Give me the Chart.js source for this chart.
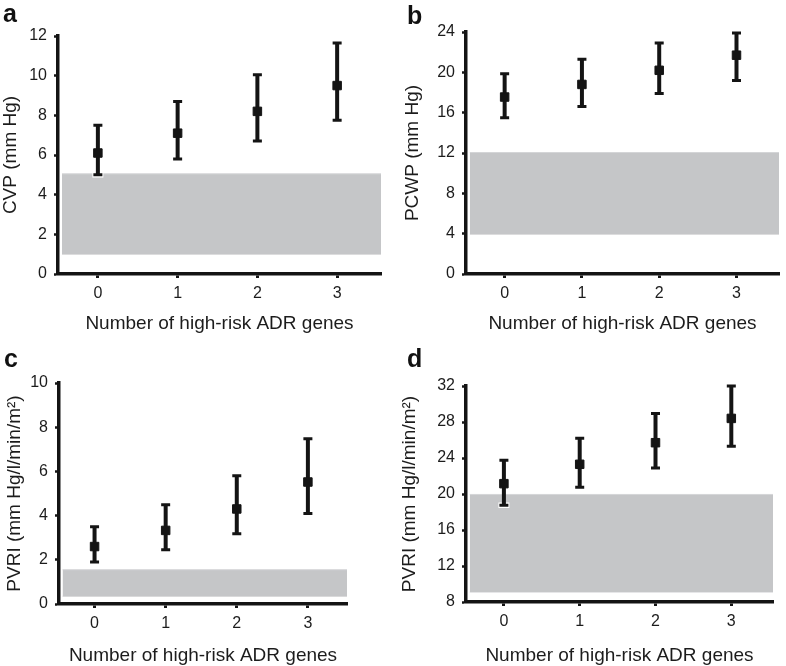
<!DOCTYPE html>
<html>
<head>
<meta charset="utf-8">
<script src="https://cdn.jsdelivr.net/npm/chart.js@4"></script>
<style>
  body { margin: 0; background: #fff; width: 786px; height: 666px; position: relative; overflow: hidden; font-family: "Liberation Sans", Arial, sans-serif; }
  .panel { position: absolute; width: 393px; height: 333px; }
  .lbl { position: absolute; font-weight: bold; font-size: 25px; line-height: 24px; color: #111; }
</style>
</head>
<body>
<div class="panel" style="left:0;top:0"><canvas id="ca"></canvas></div>
<div class="panel" style="left:393px;top:0"><canvas id="cb"></canvas></div>
<div class="panel" style="left:0;top:333px"><canvas id="cc"></canvas></div>
<div class="panel" style="left:393px;top:333px"><canvas id="cd"></canvas></div>
<div class="lbl" style="left:3px;top:1px">a</div>
<div class="lbl" style="left:407px;top:3px">b</div>
<div class="lbl" style="left:4px;top:346px">c</div>
<div class="lbl" style="left:407px;top:346px">d</div>
<script>
// number of high-risk ADR genes
const genes = [0, 1, 2, 3];

// a: CVP (mm Hg)
const cvpMean = [6.1, 7.1, 8.2, 9.5];
const cvpLow = [5.0, 5.8, 6.7, 7.75];
const cvpHigh = [7.5, 8.7, 10.05, 11.65];
const cvpNormal = [1.0, 5.05];

// b: PCWP (mm Hg)
const pcwpMean = [17.55, 18.8, 20.2, 21.7];
const pcwpLow = [15.5, 16.6, 17.9, 19.2];
const pcwpHigh = [19.85, 21.3, 22.9, 23.9];
const pcwpNormal = [3.95, 12.05];

// c: PVRI (mm Hg/l/min/m2)
const pvriMean = [2.6, 3.33, 4.3, 5.52];
const pvriLow = [1.9, 2.46, 3.18, 4.09];
const pvriHigh = [3.5, 4.49, 5.8, 7.48];
const pvriNormal = [0.35, 1.55];

// d: PVRI, second panel
const pvri2Mean = [21.15, 23.3, 25.7, 28.4];
const pvri2Low = [18.75, 20.75, 22.9, 25.3];
const pvri2High = [23.75, 26.2, 28.95, 32.0];
const pvri2Normal = [9.1, 19.95];

// normal range band spans the x axis
const bandX = [-0.45, 3.55];

const FONT = '"Liberation Sans", Arial, sans-serif';
const INK = '#141414';
const TXT = '#1c1c1c';

function makePanel(id, p) {
    const errorBars = {
        id: 'errorBars',
        beforeDatasetDraw(chart, args) {
            if (args.index !== 0) return;
            const ctx = chart.ctx;
            const x = chart.scales.x, y = chart.scales.y;
            ctx.save();
            genes.forEach((g, i) => {
                const px = x.getPixelForValue(g);
                const top = y.getPixelForValue(p.high[i]);
                const bot = y.getPixelForValue(p.low[i]);
                // thin white halo, visible over the grey band
                ctx.strokeStyle = '#fff';
                ctx.lineWidth = 5.5;
                ctx.beginPath();
                ctx.moveTo(px - 5.5, bot);
                ctx.lineTo(px + 5.5, bot);
                ctx.stroke();
                ctx.strokeStyle = INK;
                ctx.lineWidth = 4;
                ctx.beginPath();
                ctx.moveTo(px, top);
                ctx.lineTo(px, bot);
                ctx.stroke();
                ctx.lineWidth = 3;
                ctx.beginPath();
                ctx.moveTo(px - 4.5, top);
                ctx.lineTo(px + 4.5, top);
                ctx.moveTo(px - 4.5, bot);
                ctx.lineTo(px + 4.5, bot);
                ctx.stroke();
            });
            ctx.restore();
        }
    };

    new Chart(document.getElementById(id), {
        type: 'scatter',
        data: {
            datasets: [
                {
                    data: genes.map((g, i) => ({x: g, y: p.mean[i]})),
                    pointStyle: 'rect',
                    pointRadius: 6,
                    backgroundColor: INK,
                    borderColor: INK,
                    borderWidth: 1,
                    order: 0
                },
                {
                    type: 'line',
                    data: bandX.map(v => ({x: v, y: p.band[1]})),
                    fill: {value: p.band[0]},
                    backgroundColor: '#c5c6c8',
                    borderColor: '#d5d6d8',
                    borderWidth: 1,
                    pointRadius: 0,
                    order: 1
                },
                {
                    type: 'line',
                    data: bandX.map(v => ({x: v, y: p.band[0]})),
                    fill: false,
                    borderColor: '#d5d6d8',
                    borderWidth: 1,
                    pointRadius: 0,
                    order: 2
                }
            ]
        },
        plugins: [errorBars],
        options: {
            responsive: true,
            maintainAspectRatio: false,
            animation: false,
            layout: {padding: {top: p.top, right: p.right, left: 0, bottom: 0}},
            plugins: {legend: {display: false}, tooltip: {enabled: false}},
            scales: {
                x: {
                    type: 'linear',
                    min: -0.5,
                    max: 3.55,
                    afterBuildTicks: s => { s.ticks = genes.map(v => ({value: v})); },
                    afterFit: s => { s.height = p.xh; },
                    grid: {display: true, drawOnChartArea: false, drawTicks: true, tickLength: 4, tickWidth: 3, tickColor: INK},
                    border: {display: true, color: INK, width: 3.5},
                    ticks: {font: {family: FONT, size: 16}, color: TXT, padding: 6, maxRotation: 0, callback: v => String(v)},
                    title: {display: true, text: 'Number of high-risk ADR genes', color: TXT,
                        font: {family: FONT, size: 19, lineHeight: 1}, padding: {top: 0, bottom: p.xtp}}
                },
                y: {
                    min: p.min,
                    max: p.max,
                    afterFit: s => { s.width = p.yw; },
                    grid: {display: true, drawOnChartArea: false, drawTicks: true, tickLength: 4, tickWidth: 2.5, tickColor: INK},
                    border: {display: true, color: INK, width: 3.5},
                    ticks: {stepSize: p.step, font: {family: FONT, size: 16}, color: TXT, padding: 7},
                    title: {display: true, text: p.title, color: TXT,
                        font: {family: FONT, size: 19, lineHeight: 1}, padding: {top: p.ytp, bottom: 0}}
                }
            }
        }
    });
}

makePanel('ca', {mean: cvpMean, low: cvpLow, high: cvpHigh, band: cvpNormal,
    min: 0, max: 12, step: 2, title: 'CVP (mm Hg)',
    top: 36, right: 12, xh: 59, yw: 58, ytp: 1, xtp: 0});
makePanel('cb', {mean: pcwpMean, low: pcwpLow, high: pcwpHigh, band: pcwpNormal,
    min: 0, max: 24, step: 4, title: 'PCWP (mm Hg)',
    top: 32, right: 1, xh: 59, yw: 73, ytp: 10, xtp: 0});
makePanel('cc', {mean: pvriMean, low: pvriLow, high: pvriHigh, band: pvriNormal,
    min: 0, max: 10, step: 2, title: 'PVRI (mm Hg/l/min/m²)',
    top: 50, right: 46, xh: 62, yw: 59, ytp: 5, xtp: 1});
makePanel('cd', {mean: pvri2Mean, low: pvri2Low, high: pvri2High, band: pvri2Normal,
    min: 8, max: 32, step: 4, title: 'PVRI (mm Hg/l/min/m²)',
    top: 53, right: 13, xh: 64, yw: 73, ytp: 7, xtp: 1});
</script>
</body>
</html>
